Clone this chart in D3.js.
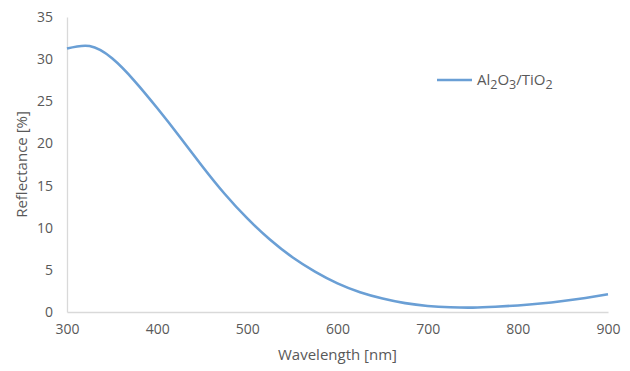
<!DOCTYPE html>
<html>
<head>
<meta charset="utf-8">
<script src="https://cdn.jsdelivr.net/npm/d3@7"></script>
<style>
  body { margin: 0; background: #fff; }
  text { font-family: "Open Sans", "Liberation Sans", sans-serif; fill: #595959; }
</style>
</head>
<body>
<div id="chart"></div>
<script>
// Reflectance spectrum
var wavelengths = [300, 325, 350, 375, 400, 425, 450, 475, 500, 525, 550, 575, 600,
                   625, 650, 675, 700, 725, 750, 775, 800, 825, 850, 875, 900];
var reflectance = [31.25, 31.55, 30.1, 27.4, 24.2, 20.8, 17.3, 14.0, 11.1, 8.6, 6.5, 4.8, 3.4,
                   2.35, 1.6, 1.05, 0.72, 0.56, 0.52, 0.62, 0.78, 1.0, 1.3, 1.67, 2.1];
var xTicks = [300, 400, 500, 600, 700, 800, 900];
var yTicks = [0, 5, 10, 15, 20, 25, 30, 35];

var width = 630, height = 371,
    margin = {top: 17, right: 22, bottom: 59, left: 67},
    lineColor = '#6a9fd5',
    axisColor = '#d9d9d9';

var svg = d3.select('#chart').append('svg')
    .attr('width', width)
    .attr('height', height);

var x = d3.scaleLinear().domain([300, 900]).range([margin.left, width - margin.right]);
var y = d3.scaleLinear().domain([0, 35]).range([height - margin.bottom, margin.top]);

// axes (lines only, labels drawn by d3 axis)
var xAxis = svg.append('g')
    .attr('transform', 'translate(0,' + y(0) + ')')
    .call(d3.axisBottom(x).tickValues(xTicks).tickSize(0).tickPadding(12));
var yAxis = svg.append('g')
    .attr('transform', 'translate(' + x(300) + ',0)')
    .call(d3.axisLeft(y).tickValues(yTicks).tickSize(0).tickPadding(14));

[xAxis, yAxis].forEach(function (g) {
    g.select('.domain').attr('stroke', axisColor).attr('stroke-width', 1.3);
    g.selectAll('text').style('font-size', '14px').attr('fill', '#595959');
});

// axis titles
svg.append('text')
    .attr('x', (x(300) + x(900)) / 2)
    .attr('y', 360)
    .attr('text-anchor', 'middle')
    .style('font-size', '15px')
    .text('Wavelength [nm]');

svg.append('text')
    .attr('transform', 'translate(27,' + ((y(0) + y(35)) / 2) + ') rotate(-90)')
    .attr('text-anchor', 'middle')
    .style('font-size', '15px')
    .text('Reflectance [%]');

// curve
var data = wavelengths.map(function (w, i) { return {w: w, r: reflectance[i]}; });
var line = d3.line()
    .x(function (d) { return x(d.w); })
    .y(function (d) { return y(d.r); })
    .curve(d3.curveNatural);

svg.append('path')
    .datum(data)
    .attr('fill', 'none')
    .attr('stroke', lineColor)
    .attr('stroke-width', 2.6)
    .attr('d', line);

// legend
var legend = svg.append('g').attr('transform', 'translate(437,80)');
legend.append('line')
    .attr('x1', 0).attr('x2', 35)
    .attr('stroke', lineColor).attr('stroke-width', 2.6);
var lt = legend.append('text')
    .attr('x', 40).attr('y', 5)
    .style('font-size', '15px');
[['Al', 0], ['2', 1], ['O', 0], ['3', 1], ['/TiO', 0], ['2', 1]].forEach(function (p, i) {
    lt.append('tspan')
        .attr('dy', p[1] ? 4 : (i > 0 ? -4 : 0))
        .style('font-size', p[1] ? '12.5px' : '15px')
        .text(p[0]);
});
</script>
</body>
</html>
